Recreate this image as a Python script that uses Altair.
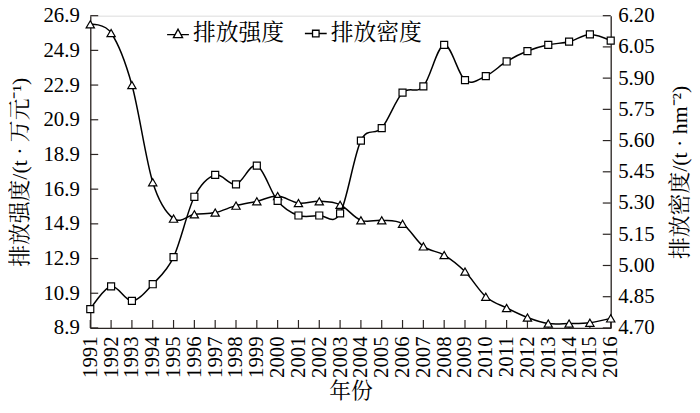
import altair as alt
import pandas as pd

# ---- data ----
years = list(range(1991, 2017))
intensity = [26.4, 25.9, 22.9, 17.3, 15.2, 15.45, 15.55, 15.95, 16.2, 16.5, 16.1, 16.2, 16.0,
             15.1, 15.1, 14.9, 13.6, 13.1, 12.15, 10.7, 10.05, 9.5, 9.15, 9.15, 9.2, 9.45]
density = [4.79, 4.90, 4.83, 4.91, 5.04, 5.33, 5.435, 5.39, 5.48, 5.31, 5.24, 5.24, 5.25,
           5.60, 5.66, 5.83, 5.86, 6.06, 5.89, 5.91, 5.98, 6.03, 6.06, 6.075, 6.11, 6.08]
left_ticks = [8.9, 10.9, 12.9, 14.9, 16.9, 18.9, 20.9, 22.9, 24.9, 26.9]
right_ticks = [4.70, 4.85, 5.00, 5.15, 5.30, 5.45, 5.60, 5.75, 5.90, 6.05, 6.20]
series_names = ["排放强度", "排放密度"]
left_title = "排放强度/(t · 万元⁻¹)"
right_title = "排放密度/(t · hm⁻²)"
x_title = "年份"

df_i = pd.DataFrame({"year": years, "value": intensity, "series": series_names[0]})
df_d = pd.DataFrame({"year": years, "value": density, "series": series_names[1]})
df_years = pd.DataFrame({"year": years})
df_lt = pd.DataFrame({"v": left_ticks})
df_rt = pd.DataFrame({"v": right_ticks})

W, H = 525, 315
NUM_FONT = "Liberation Serif, Times New Roman, serif"
CJK_FONT = "Liberation Serif, Noto Serif CJK SC, Noto Sans CJK SC, serif"
AX = "#2b2523"

x_scale = alt.Scale(domain=[1991, 2016], nice=False, zero=False)
yl_scale = alt.Scale(domain=[8.9, 26.9], nice=False, zero=False)
yr_scale = alt.Scale(domain=[4.70, 6.20], nice=False, zero=False)

x_axis = alt.Axis(values=years, format="d", labelAngle=270, labelPadding=8, ticks=False, tickSize=0,
                  grid=False, labelFont=NUM_FONT, labelFontSize=21, labelColor="black",
                  labelOverlap=False, labelFlush=False, domainColor=AX, domainWidth=1.3,
                  title=x_title, titleFont=CJK_FONT, titleFontSize=22, titleFontWeight="normal",
                  titleColor="black", titleX=W / 2, titleY=63, titleAlign="center",
                  titleBaseline="middle", titleAngle=0)

yl_axis = alt.Axis(values=left_ticks, format=".1f", orient="left", grid=False, ticks=False,
                   tickSize=0, labelPadding=11, labelFont=NUM_FONT, labelFontSize=21,
                   labelColor="black", labelOverlap=False, labelFlush=False, domainColor=AX,
                   domainWidth=1.3, title=left_title, titleFont=CJK_FONT, titleFontSize=22,
                   titleFontWeight="normal", titleColor="black", titleAngle=270, titleX=-71,
                   titleY=H / 2, titleAlign="center", titleBaseline="middle")

yr_axis = alt.Axis(values=right_ticks, format=".2f", orient="right", grid=False, ticks=False,
                   tickSize=0, labelPadding=7, labelFont=NUM_FONT, labelFontSize=21,
                   labelColor="black", labelOverlap=False, labelFlush=False, domainColor=AX,
                   domainWidth=1.3, title=right_title, titleFont=CJK_FONT, titleFontSize=22,
                   titleFontWeight="normal", titleColor="black", titleAngle=270, titleX=69,
                   titleY=H / 2, titleAlign="center", titleBaseline="middle")

X = alt.X("year:Q", scale=x_scale, axis=x_axis)
YL = alt.Y("value:Q", scale=yl_scale, axis=yl_axis)
YR = alt.Y("value:Q", scale=yr_scale, axis=yr_axis)

TRI_LEGEND = "M-1,0.1H-0.28M0.28,0.1H1M-0.42,0.38L0,-0.4L0.42,0.38Z"
SQ_LEGEND = "M-1,0H-0.3M0.3,0H1M-0.3,-0.3H0.3V0.3H-0.3Z"


def legend(path, lx):
    return alt.Legend(orient="none", legendX=lx, legendY=6, title=None, direction="horizontal",
                      symbolType=path, symbolSize=484, symbolFillColor="white",
                      symbolStrokeColor="black", symbolStrokeWidth=1.3, symbolOpacity=1,
                      labelFont=CJK_FONT, labelFontSize=23, labelColor="black", labelOffset=3,
                      padding=0)


line_i = alt.Chart(df_i).mark_line(interpolate="cardinal", color="black", strokeWidth=1.5).encode(
    x=X, y=YL,
    opacity=alt.Opacity("series:N", scale=alt.Scale(domain=[series_names[0]], range=[1]),
                        legend=legend(TRI_LEGEND, 76.5)))
pts_i = alt.Chart(df_i).mark_point(filled=True, fill="white", stroke="black", strokeWidth=1.2,
                                    size=70, shape="triangle-up", opacity=1).encode(x=X, y=YL)
lticks = alt.Chart(df_lt).mark_rule(color=AX, strokeWidth=1.2).encode(
    y=alt.Y("v:Q", scale=yl_scale, axis=yl_axis), x=alt.value(0), x2=alt.value(8))
xticks = alt.Chart(df_years).mark_rule(color=AX, strokeWidth=1.2).encode(
    x=X, y=alt.value(H - 8), y2=alt.value(H))

line_d = alt.Chart(df_d).mark_line(interpolate="cardinal", color="black", strokeWidth=1.5).encode(
    x=X, y=YR,
    opacity=alt.Opacity("series:N", scale=alt.Scale(domain=[series_names[1]], range=[1]),
                        legend=legend(SQ_LEGEND, 215.5)))
pts_d = alt.Chart(df_d).mark_point(filled=True, fill="white", stroke="black", strokeWidth=1.2,
                                    size=50, shape="square", opacity=1).encode(x=X, y=YR)
rticks = alt.Chart(df_rt).mark_rule(color=AX, strokeWidth=1.2).encode(
    y=alt.Y("v:Q", scale=yr_scale, axis=yr_axis), x=alt.value(W - 8), x2=alt.value(W))

left = alt.layer(line_i, lticks, xticks, pts_i)
right = alt.layer(line_d, rticks, pts_d)

chart = alt.layer(left, right).resolve_scale(y="independent", opacity="independent").resolve_legend(
    opacity="independent").properties(
    width=W, height=H,
    padding={"left": 83, "top": 6, "right": 82, "bottom": 76},
    autosize=alt.AutoSizeParams(type="none"),
).configure_view(stroke=None).configure(background="white")

chart.save("out.html", embed_options={"renderer": "svg", "actions": False})
